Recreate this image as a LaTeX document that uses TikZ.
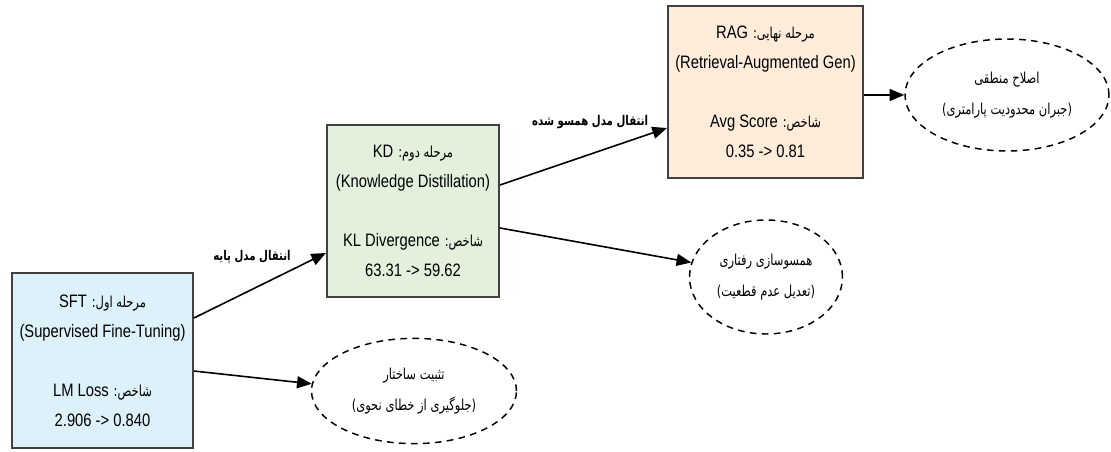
\documentclass[tikz,border=0pt]{standalone}
\usepackage{fontspec}
\setmainfont{Liberation Sans}[FakeStretch=0.82]
\newfontfamily\fa[Script=Arabic,Scale=0.84,FakeStretch=0.76]{DejaVu Sans}
\TeXXeTstate=1
\AtBeginDocument{\lineskiplimit=-100pt\relax}
\usetikzlibrary{arrows.meta,shapes.geometric}
\definecolor{sftfill}{HTML}{DDF1FB}
\definecolor{kdfill}{HTML}{E3F1DC}
\definecolor{ragfill}{HTML}{FDECD9}
\definecolor{edgegray}{HTML}{404040}
\newcommand{\rl}[1]{{\fa\beginR #1\endR}}
\newcommand{\mix}[2]{{\fa\beginR #1 \beginL{\rmfamily #2}\endL\endR}}
\tikzset{
  stagebox/.style={draw=edgegray, line width=1.5pt, rectangle, align=center, inner sep=0pt,
    font=\fontsize{13.5}{22.5}\selectfont},
  outcome/.style={draw=black, dash pattern=on 5pt off 4pt, line width=1.1pt, ellipse, align=center, inner sep=0pt,
    font=\fontsize{13.5}{23}\selectfont},
  flow/.style={draw=black, line width=1.2pt, -{Triangle[length=11pt,width=9pt]}},
  flowlabel/.style={font=\fontsize{12}{18}\selectfont\bfseries, inner sep=1pt}
}
\begin{document}
\begin{tikzpicture}[x=0.75pt,y=-0.75pt]
\useasboundingbox (0,0) rectangle (1111,452);
\node[stagebox, fill=sftfill, minimum width=135.75pt, minimum height=131.25pt] (sft) at (102.5,360.5)
  {\mix{مرحله اول:}{SFT}\\(Supervised Fine-Tuning)\\[22pt]\mix{شاخص:}{LM Loss}\\2.906 -> 0.840};
\node[stagebox, fill=kdfill, minimum width=129pt, minimum height=129pt] (kd) at (413,211)
  {\mix{مرحله دوم:}{KD}\\(Knowledge Distillation)\\[22pt]\mix{شاخص:}{KL Divergence}\\63.31 -> 59.62};
\node[stagebox, fill=ragfill, minimum width=146.25pt, minimum height=129pt] (rag) at (765.5,92)
  {\mix{مرحله نهایی:}{RAG}\\(Retrieval-Augmented Gen)\\[22pt]\mix{شاخص:}{Avg Score}\\0.35 -> 0.81};
\node[outcome, minimum width=153.75pt, minimum height=79pt] (e1) at (414,391)
  {\rl{تثبیت ساختار}\\\rl{(جلوگیری از خطای نحوی)}};
\node[outcome, minimum width=114.75pt, minimum height=85.5pt] (e2) at (766,277)
  {\rl{همسوسازی رفتاری}\\\rl{(تعدیل عدم قطعیت)}};
\node[outcome, minimum width=153pt, minimum height=84pt] (e3) at (1007,95)
  {\rl{اصلاح منطقی}\\\rl{(جبران محدودیت پارامتری)}};
\draw[flow] ([yshift=31.9pt]sft.east) -- ([yshift=-31.5pt]kd.west) node[pos=0.5, above=15pt, xshift=-6pt, flowlabel] (l1) {\rl{انتقال مدل پایه}};
\draw[flow] ([yshift=-7.9pt]sft.east) -- (e1.176);
\draw[flow] ([yshift=19.5pt]kd.east) -- ([yshift=-27pt]rag.west) node[pos=0.5, above=19pt, xshift=5pt, flowlabel] (l2) {\rl{انتقال مدل همسو شده}};
\draw[flow] ([yshift=-12.75pt]kd.east) -- (e2.169);
\draw[flow] ([yshift=-2.25pt]rag.east) -- (e3.west);
\end{tikzpicture}
\end{document}
